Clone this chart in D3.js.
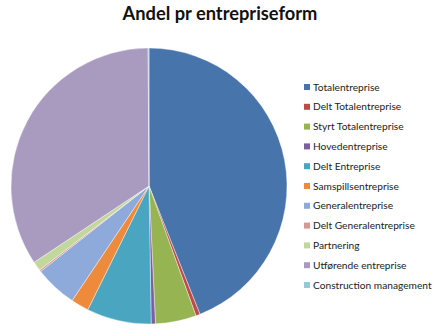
<!DOCTYPE html>
<html>
<head>
<meta charset="utf-8">
<script src="https://cdn.jsdelivr.net/npm/d3@7"></script>
<style>
  html, body { margin: 0; padding: 0; background: #fff; }
  svg { display: block; }
</style>
</head>
<body>
<svg id="chart" width="443" height="333"></svg>
<script>
// Share of projects by contract form (percent)
const categories = [
  "Totalentreprise",
  "Delt Totalentreprise",
  "Styrt Totalentreprise",
  "Hovedentreprise",
  "Delt Entreprise",
  "Samspillsentreprise",
  "Generalentreprise",
  "Delt Generalentreprise",
  "Partnering",
  "Utførende entreprise",
  "Construction management"
];
const values = [44.2, 0.5, 4.8, 0.5, 7.6, 2.1, 5.0, 0.2, 1.1, 34.4, 0.1];
const colors = [
  "#4774AB", "#BE4B48", "#97B452", "#7D5FA0", "#49A5C0", "#EE8A3C",
  "#8EAADA", "#D69896", "#C2D79C", "#A99BC0", "#92CADA"
];
const title = "Andel pr entrepriseform";

const svg = d3.select("#chart");

svg.append("text")
  .attr("x", 220).attr("y", 20)
  .attr("text-anchor", "middle")
  .attr("font-family", "Lato, 'Open Sans', sans-serif")
  .attr("font-weight", "bold")
  .attr("font-size", 18.3)
  .attr("fill", "#111")
  .text(title);

const cx = 149, cy = 186, r = 138;
const pie = d3.pie().sort(null).value(d => d.v);
const arc = d3.arc().innerRadius(0).outerRadius(r);
const data = categories.map((c, i) => ({ c, v: values[i], col: colors[i] }));

svg.append("g")
  .attr("transform", `translate(${cx},${cy})`)
  .selectAll("path")
  .data(pie(data))
  .join("path")
  .attr("d", arc)
  .attr("fill", d => d.data.col)
  .attr("stroke", "#fff")
  .attr("stroke-width", 0.4);

// Legend
const legend = svg.append("g").attr("transform", "translate(304,87)");
const rowH = 19.8;
const items = legend.selectAll("g")
  .data(data)
  .join("g")
  .attr("transform", (d, i) => `translate(0,${i * rowH})`);
items.append("rect")
  .attr("x", 0).attr("y", -3)
  .attr("width", 6).attr("height", 6)
  .attr("fill", d => d.col);
items.append("text")
  .attr("x", 9).attr("y", 0)
  .attr("dy", "0.35em")
  .attr("font-family", "Lato, 'Open Sans', sans-serif")
  .attr("font-size", 10.2)
  .attr("fill", "#222")
  .text(d => d.c);
</script>
</body>
</html>
